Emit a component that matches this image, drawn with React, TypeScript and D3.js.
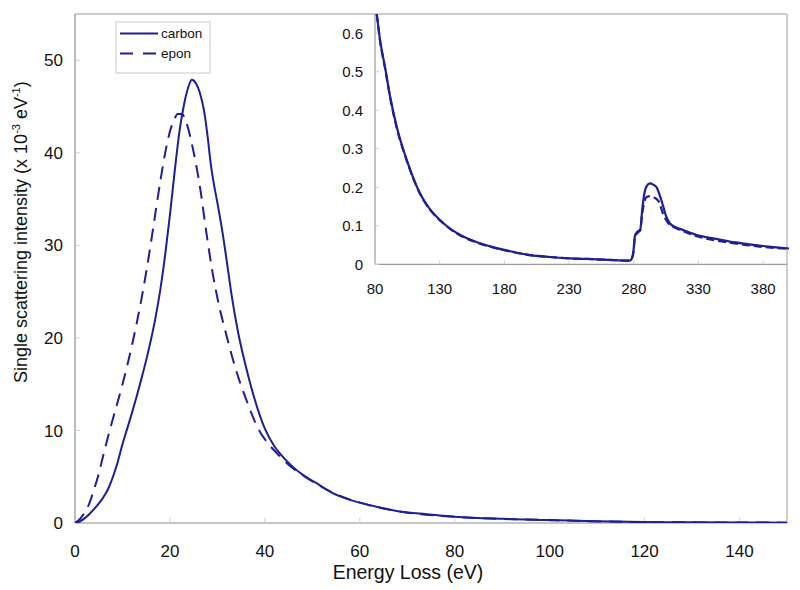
import React from "react";
import * as d3 from "d3";

// ---- Data (energy loss eV, intensity x10^-3 eV^-1) ----
const carbonMainE = [0, 1, 2, 3, 4, 5, 6, 7, 8, 9, 10, 11, 12, 13, 14, 15, 16, 17, 18, 19, 20, 21, 22, 23, 24, 24.6, 25.5, 26.3, 27.2, 28, 28.6, 29.2, 30, 31.2, 32, 33, 34.4, 36.1, 37.9, 40, 42, 43.2, 45.6, 48, 50.9, 54, 57.9, 60, 64, 68.4, 74, 80, 90, 100, 110, 120, 130, 140, 150];
const carbonMainI = [0, 0.15, 0.5, 0.95, 1.5, 2.1, 2.8, 3.7, 5.0, 6.6, 8.5, 10.2, 11.9, 13.7, 15.6, 17.6, 19.8, 22.3, 25.3, 29.0, 33.3, 38.0, 42.3, 45.3, 47.3, 47.9, 47.5, 46.5, 44.5, 41.5, 38.8, 36.8, 34.6, 31.0, 28.2, 24.6, 20.5, 16.7, 13.3, 10.2, 8.3, 7.5, 6.2, 5.2, 4.3, 3.3, 2.5, 2.2, 1.7, 1.25, 0.95, 0.68, 0.45, 0.32, 0.18, 0.1, 0.07, 0.05, 0.04];

const eponMainE = [0, 1, 2, 3, 4, 5, 6, 7, 8, 9, 10, 11, 12, 13, 14, 15, 16, 17, 18, 19, 20, 21, 21.6, 22.5, 23.5, 24.9, 26.3, 27.7, 29, 30.3, 31.9, 33.7, 36.1, 38.6, 41, 43, 45, 47, 50, 55, 60, 68.4, 80, 100, 120, 150];
const eponMainI = [0, 0.4, 1.1, 2.1, 3.6, 5.3, 7.4, 9.4, 11.3, 13.1, 15.0, 17.0, 19.2, 21.6, 24.2, 27.1, 30.3, 33.7, 37.0, 40.0, 42.3, 43.7, 44.2, 44.2, 43.2, 40.3, 36.4, 31.3, 27.0, 23.6, 20.3, 16.9, 13.3, 10.2, 8.4, 7.3, 6.3, 5.5, 4.5, 3.1, 2.2, 1.24, 0.67, 0.31, 0.1, 0.04];

const carbonInsetE = [80, 81.3, 84, 87.7, 92, 96.8, 104.5, 114.8, 122, 130.2, 140, 148.2, 160, 174, 186, 199.8, 215, 230.7, 251.3, 265, 277, 278.5, 279.6, 281, 283, 285, 286.5, 288, 290, 292.5, 295, 297.7, 300, 302.8, 305, 308, 312, 318.2, 328.6, 340, 354.3, 367, 380, 390, 400];
const carbonInsetI = [0.68, 0.651, 0.58, 0.513, 0.43, 0.357, 0.271, 0.184, 0.145, 0.115, 0.088, 0.072, 0.056, 0.042, 0.033, 0.024, 0.019, 0.0156, 0.013, 0.011, 0.0095, 0.015, 0.03, 0.075, 0.085, 0.09, 0.14, 0.18, 0.203, 0.21, 0.207, 0.2, 0.18, 0.15, 0.125, 0.106, 0.097, 0.089, 0.076, 0.068, 0.059, 0.053, 0.0475, 0.044, 0.041];

const eponInsetE = [80, 81.3, 84, 87.7, 92, 96.8, 104.5, 114.8, 122, 130.2, 140, 148.2, 160, 174, 186, 199.8, 215, 230.7, 251.3, 265, 277, 278.5, 279.6, 281, 283, 285, 286.5, 288, 290, 292.5, 295, 299, 302.8, 306.9, 312, 318.2, 328.6, 340, 354.3, 367, 380, 390, 400];
const eponInsetI = [0.68, 0.65, 0.578, 0.51, 0.428, 0.354, 0.27, 0.183, 0.144, 0.114, 0.087, 0.071, 0.055, 0.041, 0.032, 0.024, 0.019, 0.0155, 0.013, 0.011, 0.0095, 0.014, 0.028, 0.07, 0.082, 0.088, 0.13, 0.16, 0.175, 0.177, 0.175, 0.165, 0.13, 0.106, 0.095, 0.086, 0.073, 0.064, 0.056, 0.05, 0.045, 0.042, 0.04];

const mainXTicks = [0, 20, 40, 60, 80, 100, 120, 140];
const mainYTicks = [0, 10, 20, 30, 40, 50];
const insetXTicks = [80, 130, 180, 230, 280, 330, 380];
const insetYTicks = [0, 0.1, 0.2, 0.3, 0.4, 0.5, 0.6];

const seriesNames = ["carbon", "epon"];

const LINE = "#1e1e96";
const FONT = "Liberation Sans, Arial, sans-serif";

export default function App() {
  // main plot area
  const mL = 75, mR = 787, mT = 14, mB = 523;
  const x = d3.scaleLinear().domain([0, 150]).range([mL, mR]);
  const y = d3.scaleLinear().domain([0, 55]).range([mB, mT]);

  // inset plot area
  const iL = 375, iR = 789, iT = 14, iB = 264.3;
  const xi = d3.scaleLinear().domain([80, 400]).range([iL, iR]);
  const yi = d3.scaleLinear().domain([0, 0.65]).range([iB, iT]);

  const zip = (a: number[], b: number[]) => a.map((v, i) => [v, b[i]] as [number, number]);

  const lineMain = d3.line<[number, number]>().x(d => x(d[0])).y(d => y(d[1])).curve(d3.curveMonotoneX);
  const lineInset = d3.line<[number, number]>().x(d => xi(d[0])).y(d => yi(d[1])).curve(d3.curveMonotoneX);

  const dash = "13,8";

  return (
    <svg width={800} height={590} style={{ position: "absolute", left: 0, top: 0, background: "#fff" }} fontFamily={FONT}>
      <defs>
        <clipPath id="clipMain"><rect x={mL} y={mT} width={mR - mL} height={mB - mT} /></clipPath>
        <clipPath id="clipInset"><rect x={iL} y={iT} width={iR - iL} height={iB - iT} /></clipPath>
      </defs>
      <rect x={0} y={0} width={800} height={590} fill="#fff" />

      {/* main frame */}
      <line x1={mL} x2={mR} y1={mT} y2={mT} stroke="#bdbdbd" strokeWidth={1.5} />
      <line x1={mR} x2={mR} y1={mT} y2={mB} stroke="#bdbdbd" strokeWidth={1.5} />
      <line x1={mL} x2={mL} y1={mT} y2={mB} stroke="#8c8c8c" strokeWidth={1.2} />
      <line x1={mL} x2={mR} y1={mB} y2={mB} stroke="#8c8c8c" strokeWidth={1.2} />

      {mainXTicks.map(t => (
        <g key={"mx" + t}>
          <line x1={x(t)} x2={x(t)} y1={mB} y2={mB - 5} stroke="#cfcfcf" />
          <text x={x(t)} y={557} textAnchor="middle" fontSize={17} fill="#111">{t}</text>
        </g>
      ))}
      {mainYTicks.map(t => (
        <g key={"my" + t}>
          <line x1={mL} x2={mL + 5} y1={y(t)} y2={y(t)} stroke="#cfcfcf" />
          <text x={63} y={y(t)} dy="0.36em" textAnchor="end" fontSize={17} fill="#111">{t}</text>
        </g>
      ))}

      <text x={408} y={579} textAnchor="middle" fontSize={19.5} fill="#111">Energy Loss (eV)</text>
      <text transform="translate(27,383) rotate(-90)" fontSize={18} fill="#111">
        Single scattering intensity (x 10
        <tspan dy={-7} fontSize={11}>-3</tspan>
        <tspan dy={7}> eV</tspan>
        <tspan dy={-7} fontSize={11}>-1</tspan>
        <tspan dy={7}>)</tspan>
      </text>

      {/* main series */}
      <g clipPath="url(#clipMain)">
        <path d={lineMain(zip(eponMainE, eponMainI)) || ""} fill="none" stroke={LINE} strokeWidth={2} strokeDasharray={dash} />
        <path d={lineMain(zip(carbonMainE, carbonMainI)) || ""} fill="none" stroke={LINE} strokeWidth={2} />
      </g>

      {/* legend */}
      <rect x={116} y={22} width={94} height={51} fill="#fff" stroke="#c8c8c8" />
      <line x1={120} x2={158} y1={33.5} y2={33.5} stroke={LINE} strokeWidth={2} />
      <text x={161} y={38} fontSize={13.5} fill="#111">{seriesNames[0]}</text>
      <line x1={120} x2={158} y1={53.5} y2={53.5} stroke={LINE} strokeWidth={2} strokeDasharray="13,10" />
      <text x={161} y={58} fontSize={13.5} fill="#111">{seriesNames[1]}</text>

      {/* inset axes */}
      <line x1={iL} x2={iL} y1={iT} y2={iB} stroke="#9a9a9a" strokeWidth={1.2} />
      <line x1={iL} x2={mR} y1={iB} y2={iB} stroke="#9a9a9a" strokeWidth={1.2} />
      {insetXTicks.map(t => (
        <g key={"ix" + t}>
          <line x1={xi(t)} x2={xi(t)} y1={iB} y2={iB - 4} stroke="#d0d0d0" />
          <text x={xi(t)} y={294} textAnchor="middle" fontSize={15} fill="#111">{t}</text>
        </g>
      ))}
      {insetYTicks.map(t => (
        <g key={"iy" + t}>
          <line x1={iL} x2={iL + 4} y1={yi(t)} y2={yi(t)} stroke="#d0d0d0" />
          <text x={363} y={yi(t)} dy="0.36em" textAnchor="end" fontSize={15} fill="#111">{t}</text>
        </g>
      ))}
      <g clipPath="url(#clipInset)">
        <path d={lineInset(zip(eponInsetE, eponInsetI)) || ""} fill="none" stroke={LINE} strokeWidth={2.2} strokeDasharray="8,4" />
        <path d={lineInset(zip(carbonInsetE, carbonInsetI)) || ""} fill="none" stroke={LINE} strokeWidth={2.2} />
      </g>
    </svg>
  );
}
